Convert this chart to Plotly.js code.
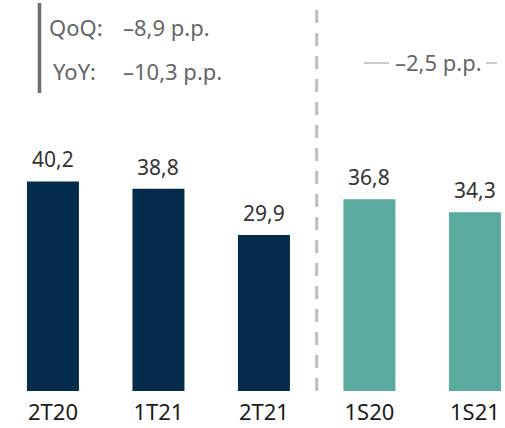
<!DOCTYPE html>
<html>
<head>
<meta charset="utf-8">
<script src="https://cdn.plot.ly/plotly-3.0.1.min.js"></script>
<style>html,body{margin:0;padding:0;background:#fff;}#chart{width:505px;height:428px;}</style>
</head>
<body>
<div id="chart"></div>
<script>
const categories = ["2T20", "1T21", "2T21", "1S20", "1S21"];
const values = [40.2, 38.8, 29.9, 36.8, 34.3];
const barColors = ["#032d4b", "#032d4b", "#032d4b", "#5baa9f", "#5baa9f"];
const qoqLabel = "QoQ:";
const qoqValue = "–8,9 p.p.";
const yoyLabel = "YoY:";
const yoyValue = "–10,3 p.p.";
const semesterDelta = "–2,5 p.p.";

const FONT = "Noto Sans, Lato, sans-serif";
const fmt = v => v.toFixed(1).replace(".", ",");

const trace = {
  type: "bar",
  x: categories,
  y: values,
  marker: {color: barColors, line: {width: 0}},
  width: 0.493,
  hoverinfo: "skip"
};

const annotations = categories.map((c, i) => ({
  x: c, y: values[i], xref: "x", yref: "y",
  text: fmt(values[i]), showarrow: false,
  yanchor: "bottom", yshift: 6,
  font: {family: FONT, size: 21, color: "#333333"}
}));

const grey = "#666666";
const aSize = 22;
annotations.push(
  {xref: "paper", yref: "paper", x: 47/505, y: 1 - 27/391, xanchor: "left", yanchor: "middle",
   text: qoqLabel, showarrow: false, font: {family: FONT, size: aSize, color: grey}},
  {xref: "paper", yref: "paper", x: 121/505, y: 1 - 27/391, xanchor: "left", yanchor: "middle",
   text: qoqValue, showarrow: false, font: {family: FONT, size: aSize, color: grey}},
  {xref: "paper", yref: "paper", x: 51/505, y: 1 - 71/391, xanchor: "left", yanchor: "middle",
   text: yoyLabel, showarrow: false, font: {family: FONT, size: aSize, color: grey}},
  {xref: "paper", yref: "paper", x: 121/505, y: 1 - 71/391, xanchor: "left", yanchor: "middle",
   text: yoyValue, showarrow: false, font: {family: FONT, size: aSize, color: grey}},
  {xref: "paper", yref: "paper", x: 438/505, y: 1 - 62/391, xanchor: "center", yanchor: "middle",
   text: semesterDelta, showarrow: false, font: {family: FONT, size: aSize, color: grey}}
);

const shapes = [
  {type: "line", xref: "paper", yref: "paper", x0: 39.5/505, x1: 39.5/505, y0: 1 - 3/391, y1: 1 - 93/391,
   line: {color: "#6d6d6d", width: 3.5}},
  {type: "line", xref: "x", yref: "paper", x0: 2.5, x1: 2.5, y0: 0, y1: 1,
   line: {color: "#bdbdbd", width: 3, dash: "13px,10px"}},
  {type: "line", xref: "paper", yref: "paper", x0: 364/505, x1: 389/505, y0: 1 - 63/391, y1: 1 - 63/391,
   line: {color: "#a6a6a6", width: 1.2}},
  {type: "line", xref: "paper", yref: "paper", x0: 486/505, x1: 497/505, y0: 1 - 63/391, y1: 1 - 63/391,
   line: {color: "#a6a6a6", width: 1.2}}
];

const layout = {
  width: 505, height: 428,
  margin: {l: 0, r: 0, t: 0, b: 37, pad: 0},
  paper_bgcolor: "#ffffff", plot_bgcolor: "#ffffff",
  showlegend: false,
  xaxis: {type: "category", range: [-0.502, 4.285], showgrid: false, zeroline: false, showline: false,
          ticks: "", ticklabelstandoff: 6, fixedrange: true,
          tickfont: {family: FONT, size: 22, color: "#1a1a1a"}},
  yaxis: {range: [0, 75], visible: false, showgrid: false, zeroline: false, fixedrange: true},
  annotations: annotations,
  shapes: shapes
};

Plotly.newPlot("chart", [trace], layout, {staticPlot: true, displayModeBar: false});
</script>
</body>
</html>
